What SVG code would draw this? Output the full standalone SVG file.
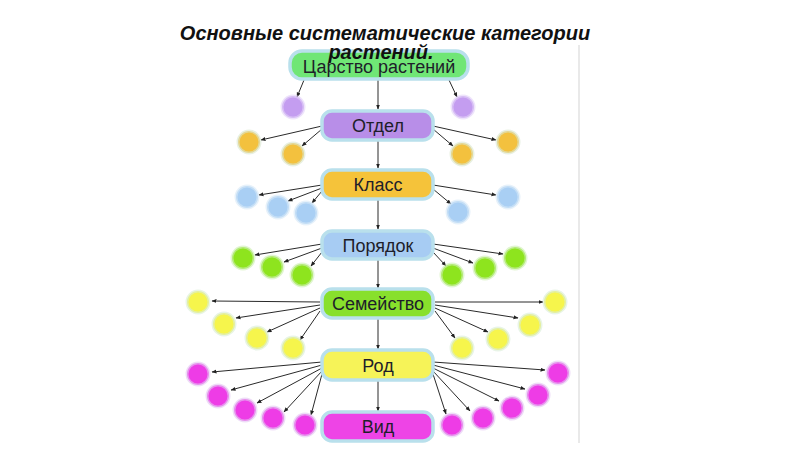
<svg xmlns="http://www.w3.org/2000/svg" width="800" height="450" viewBox="0 0 800 450">
<defs>
<marker id="ah" viewBox="0 0 10 10" refX="9" refY="5" markerWidth="5" markerHeight="5" orient="auto"><path d="M0,1 L10,5 L0,9 z" fill="#222"/></marker>
<style>
.box{stroke:#b9e0ec;stroke-width:3.5}
.lbl{font-family:"Liberation Sans",Arial,sans-serif;font-size:18px;fill:#1e1e2a;text-anchor:middle}
.c{stroke-width:3;stroke-opacity:0.6}
.pu{fill:#c49df0;stroke:#e2d2f8}
.or{fill:#f3c13e;stroke:#d9e6cf}
.bl{fill:#a9cff4;stroke:#d6e8f6}
.gr{fill:#8ee41e;stroke:#cdeeb3}
.ye{fill:#f6f54c;stroke:#d8ecd6}
.ma{fill:#ee3ce6;stroke:#e3c7f2}
#conn line{stroke:#2a2a2a;stroke-width:1;marker-end:url(#ah)}
.title{font-family:"Liberation Sans",Arial,sans-serif;font-weight:bold;font-style:italic;font-size:20px;fill:#111;text-anchor:middle}
</style>
</defs>
<rect width="800" height="450" fill="#ffffff"/>
<line x1="579" y1="45" x2="579" y2="443" stroke="#e2e2e2" stroke-width="1.5"/>

<g id="conn">
<line x1="378" y1="80" x2="378" y2="109"/>
<line x1="378" y1="141" x2="378" y2="168"/>
<line x1="378" y1="200" x2="378" y2="229"/>
<line x1="378" y1="260" x2="378" y2="288"/>
<line x1="378" y1="319" x2="378" y2="349"/>
<line x1="378" y1="381" x2="378" y2="411"/>
<line x1="304" y1="80" x2="297" y2="97"/>
<line x1="449" y1="80" x2="457" y2="97"/>
<line x1="322" y1="126" x2="261" y2="140"/>
<line x1="322" y1="129" x2="302" y2="146"/>
<line x1="433" y1="126" x2="496" y2="140"/>
<line x1="433" y1="129" x2="453" y2="146"/>
<line x1="322" y1="185" x2="259" y2="195"/>
<line x1="322" y1="188" x2="288" y2="201"/>
<line x1="322" y1="191" x2="312" y2="203"/>
<line x1="433" y1="185" x2="496" y2="195"/>
<line x1="433" y1="189" x2="451" y2="204"/>
<line x1="322" y1="244" x2="255" y2="255"/>
<line x1="322" y1="248" x2="284" y2="262"/>
<line x1="322" y1="252" x2="311" y2="266"/>
<line x1="433" y1="244" x2="503" y2="254"/>
<line x1="433" y1="248" x2="473" y2="263"/>
<line x1="433" y1="252" x2="446" y2="266"/>
<line x1="320" y1="302" x2="212" y2="301"/>
<line x1="320" y1="305" x2="236" y2="318"/>
<line x1="320" y1="308" x2="267" y2="332"/>
<line x1="320" y1="311" x2="300" y2="340"/>
<line x1="435" y1="302" x2="543" y2="302"/>
<line x1="435" y1="305" x2="518" y2="318"/>
<line x1="435" y1="308" x2="488" y2="332"/>
<line x1="435" y1="311" x2="455" y2="338"/>
<line x1="322" y1="362" x2="212" y2="372"/>
<line x1="322" y1="365" x2="231" y2="390"/>
<line x1="322" y1="368" x2="257" y2="403"/>
<line x1="322" y1="371" x2="284" y2="412"/>
<line x1="322" y1="374" x2="311" y2="415"/>
<line x1="433" y1="362" x2="545" y2="370"/>
<line x1="433" y1="365" x2="525" y2="389"/>
<line x1="433" y1="368" x2="499" y2="401"/>
<line x1="433" y1="371" x2="470" y2="411"/>
<line x1="433" y1="374" x2="446" y2="414"/>
</g>

<g id="n-tsarstvo"><rect class="box" x="290" y="51" width="178" height="28" rx="12" fill="#70e676"/><text class="lbl" x="379" y="73">Царство растений</text></g>
<g id="n-otdel"><rect class="box" x="322" y="111" width="111" height="29" rx="10" fill="#b88ee8"/><text class="lbl" x="378" y="132">Отдел</text></g>
<g id="n-klass"><rect class="box" x="322" y="170" width="111" height="29" rx="10" fill="#f5c33a"/><text class="lbl" x="378" y="191">Класс</text></g>
<g id="n-poryadok"><rect class="box" x="322" y="231" width="111" height="28" rx="10" fill="#a7ccf3"/><text class="lbl" x="378" y="252">Порядок</text></g>
<g id="n-semeystvo"><rect class="box" x="322" y="289" width="111" height="29" rx="10" fill="#88e02c"/><text class="lbl" x="378" y="310">Семейство</text></g>
<g id="n-rod"><rect class="box" x="322" y="350" width="111" height="30" rx="10" fill="#f6f358"/><text class="lbl" x="378" y="372">Род</text></g>
<g id="n-vid"><rect class="box" x="322" y="412" width="111" height="29" rx="10" fill="#ee44e6"/><text class="lbl" x="378" y="433">Вид</text></g>

<g id="c-l1"><circle class="c pu" cx="293" cy="107" r="11"/><circle class="c pu" cx="463" cy="107" r="11"/></g>
<g id="c-l2"><circle class="c or" cx="249" cy="142" r="11"/><circle class="c or" cx="293" cy="154" r="11"/><circle class="c or" cx="462" cy="154" r="11"/><circle class="c or" cx="508" cy="142" r="11"/></g>
<g id="c-l3"><circle class="c bl" cx="247" cy="197" r="11"/><circle class="c bl" cx="278" cy="207" r="11"/><circle class="c bl" cx="306" cy="213" r="11"/><circle class="c bl" cx="458" cy="212" r="11"/><circle class="c bl" cx="508" cy="197" r="11"/></g>
<g id="c-l4"><circle class="c gr" cx="243" cy="258" r="11"/><circle class="c gr" cx="272" cy="267" r="11"/><circle class="c gr" cx="302" cy="275" r="11"/><circle class="c gr" cx="452" cy="275" r="11"/><circle class="c gr" cx="485" cy="268" r="11"/><circle class="c gr" cx="515" cy="258" r="11"/></g>
<g id="c-l5"><circle class="c ye" cx="198" cy="302" r="11"/><circle class="c ye" cx="224" cy="324" r="11"/><circle class="c ye" cx="257" cy="338" r="11"/><circle class="c ye" cx="293" cy="348" r="11"/><circle class="c ye" cx="462" cy="348" r="11"/><circle class="c ye" cx="498" cy="339" r="11"/><circle class="c ye" cx="530" cy="325" r="11"/><circle class="c ye" cx="555" cy="302" r="11"/></g>
<g id="c-l6"><circle class="c ma" cx="198" cy="374" r="11"/><circle class="c ma" cx="218" cy="396" r="11"/><circle class="c ma" cx="245" cy="410" r="11"/><circle class="c ma" cx="273" cy="418" r="11"/><circle class="c ma" cx="305" cy="425" r="11"/><circle class="c ma" cx="452" cy="425" r="11"/><circle class="c ma" cx="483" cy="418" r="11"/><circle class="c ma" cx="512" cy="408" r="11"/><circle class="c ma" cx="538" cy="395" r="11"/><circle class="c ma" cx="558" cy="373" r="11"/></g>

<g id="title"><text class="title" x="385" y="40">Основные систематические категории</text><text class="title" x="381" y="59">растений.</text></g>
</svg>
